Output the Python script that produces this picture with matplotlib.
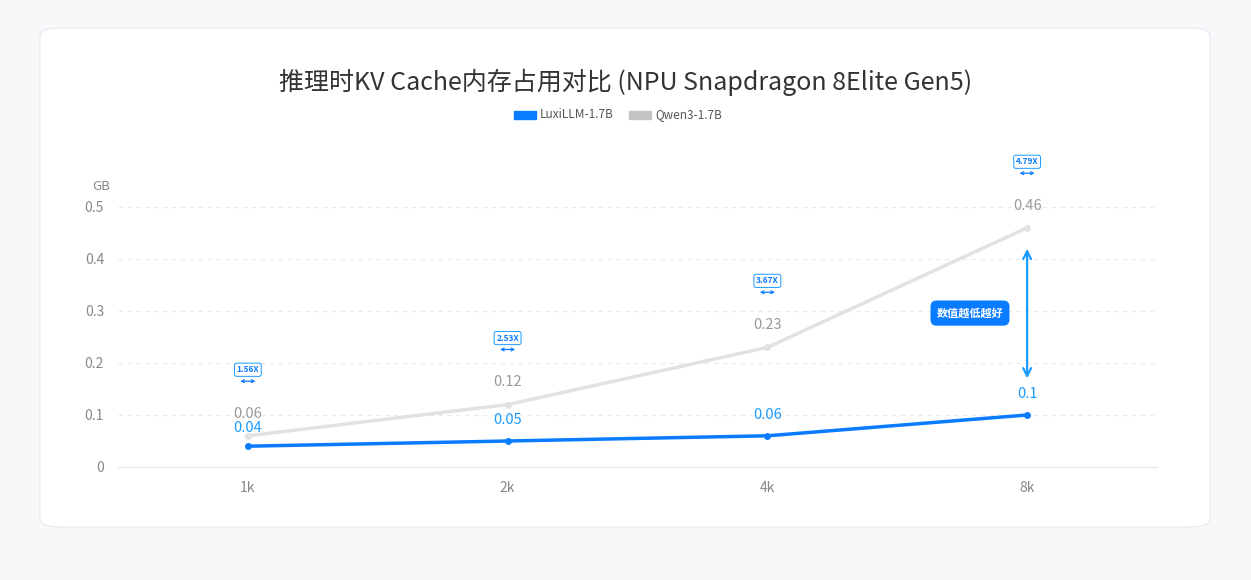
import matplotlib.pyplot as plt
from matplotlib.patches import FancyBboxPatch

plt.rcParams['font.family'] = ['Noto Sans CJK SC', 'DejaVu Sans']

categories = ["1k", "2k", "4k", "8k"]
luxi = [0.04, 0.05, 0.06, 0.1]
qwen = [0.06, 0.12, 0.23, 0.46]
ratios = ["1.56X", "2.53X", "3.67X", "4.79X"]
ratio_y = [0.187, 0.248, 0.358, 0.587]

blue = "#0a7cff"
blue_lbl = "#1a9bff"
gray = "#e2e2e2"

fig = plt.figure(figsize=(12.51, 5.8), dpi=100)
fig.patch.set_facecolor("#f7f8fa")
# card
card = FancyBboxPatch((40 / 1251, 1 - 527 / 580), 1170 / 1251, 499 / 580,
                      boxstyle="round,pad=0,rounding_size=0.015",
                      transform=fig.transFigure, facecolor="white",
                      edgecolor="#e8eaf0", linewidth=0.8, zorder=-5)
fig.patches.append(card)

ax = fig.add_axes([118 / 1251, 1 - 467 / 580, 1039 / 1251, 260 / 580])
ax.set_zorder(5)
ax.set_facecolor("none")
x = range(len(categories))
ax.plot(x, qwen, color=gray, lw=2.5, marker="o", ms=4, zorder=2)
ax.plot(x, luxi, color=blue, lw=2.5, marker="o", ms=4, zorder=3)
ax.set_xlim(-0.5, 3.5)
ax.set_ylim(0, 0.5)
ax.set_xticks(list(x))
ax.set_xticklabels(categories)
ax.set_yticks([0, 0.1, 0.2, 0.3, 0.4, 0.5])
ax.set_yticklabels(["0", "0.1", "0.2", "0.3", "0.4", "0.5"])
ax.tick_params(colors="#888888", labelsize=10, length=0, pad=10)
for s in ["top", "right", "left"]:
    ax.spines[s].set_visible(False)
ax.spines["bottom"].set_color("#e5e5e5")
ax.grid(axis="y", ls=(0, (4, 4)), color="#ebebeb", lw=0.8)
ax.set_axisbelow(True)
ax.text(-0.53, 0.54, "GB", color="#888888", fontsize=9.5, ha="right", va="center")

for i in x:
    ax.annotate(f"{qwen[i]:g}", (i, qwen[i]), xytext=(0, 11), textcoords="offset points",
                ha="center", va="bottom", color="#999999", fontsize=10.5)
    ax.annotate(f"{luxi[i]:g}", (i, luxi[i]), xytext=(0, 8 if i == 0 else 10),
                textcoords="offset points", ha="center", va="bottom",
                color=blue_lbl, fontsize=10.5)
    ax.text(i, ratio_y[i], ratios[i], ha="center", va="center", fontsize=6,
            color=blue, fontweight="bold", clip_on=False,
            bbox=dict(boxstyle="round,pad=0.25", fc="white", ec=blue_lbl, lw=0.7))
    ax.annotate("", xy=(i - 0.04, ratio_y[i] - 0.022), xytext=(i + 0.04, ratio_y[i] - 0.022),
                arrowprops=dict(arrowstyle="<->", color=blue, lw=0.9,
                                mutation_scale=5), annotation_clip=False)

ax.annotate("", xy=(3, 0.425), xytext=(3, 0.165),
            arrowprops=dict(arrowstyle="<->", color=blue_lbl, lw=1.6, mutation_scale=14))
ax.text(2.78, 0.296, "数值越低越好", ha="center", va="center", color="white",
        fontsize=8, fontweight="bold",
        bbox=dict(boxstyle="round,pad=0.55", fc=blue, ec="none"))

fig.text(0.5, 1 - 82 / 580, "推理时KV Cache内存占用对比 (NPU Snapdragon 8Elite Gen5)",
         ha="center", va="center", fontsize=18, color="#333333")
# legend
lx = 514 / 1251
ly = 1 - 115 / 580
fig.patches.append(plt.Rectangle((lx, ly - 0.007), 22 / 1251, 0.014,
                                 transform=fig.transFigure, color=blue))
fig.text(lx + 26 / 1251, ly, "LuxiLLM-1.7B", fontsize=8.5, color="#555555", va="center")
gx = 629 / 1251
fig.patches.append(plt.Rectangle((gx, ly - 0.007), 22 / 1251, 0.014,
                                 transform=fig.transFigure, color="#c4c4c4"))
fig.text(gx + 26 / 1251, ly, "Qwen3-1.7B", fontsize=8.5, color="#555555", va="center")

fig.savefig("out.png", dpi=100, facecolor=fig.get_facecolor())
